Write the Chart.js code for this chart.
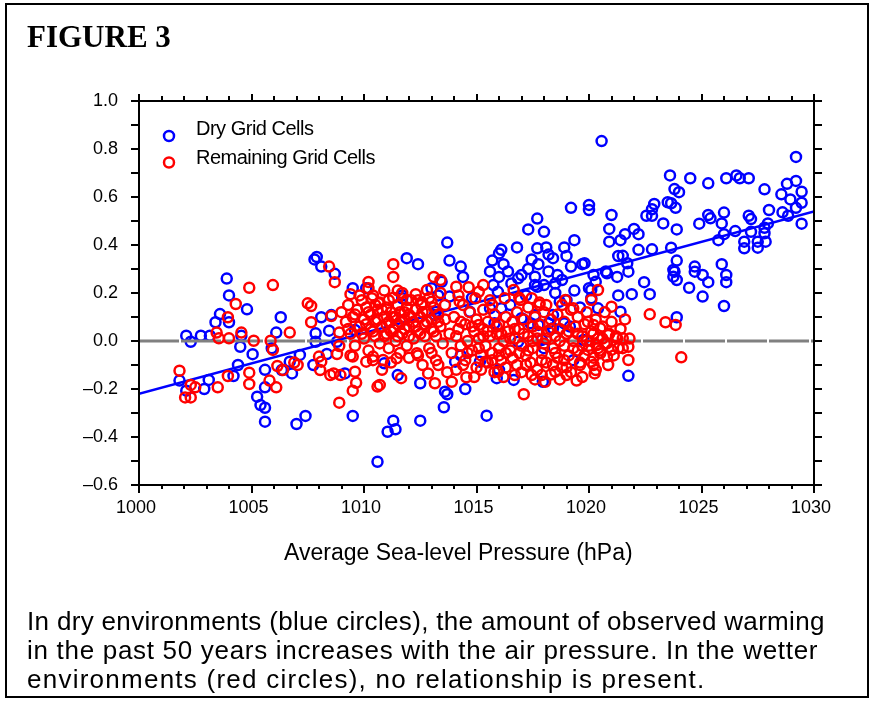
<!DOCTYPE html>
<html>
<head>
<meta charset="utf-8">
<title>Figure 3</title>
<script src="https://cdn.jsdelivr.net/npm/chart.js@4.4.1/dist/chart.umd.min.js"></script>
<style>
  html, body { margin: 0; padding: 0; background: #fff; overflow: hidden; }
  #chart { position: absolute; left: 0; top: 0; }
  #frame { position: absolute; left: 5px; top: 3px; width: 860px; height: 691px;
           border: 2px solid #000; overflow: hidden; }
  #fig { position: absolute; left: 20px; top: 16px; font: bold 31px "Liberation Serif", "Times New Roman", serif;
         line-height: 31px; white-space: nowrap; }
  #xtitle { position: absolute; left: 277px; top: 536px; font: 23px "Liberation Sans", Arial, sans-serif;
            line-height: 23px; white-space: nowrap; }
  #caption { position: absolute; left: 20px; top: 602px; width: 840px; white-space: nowrap;
             font: 26px "Liberation Sans", Arial, sans-serif; line-height: 29px; }
  #caption span { display: block; }
</style>
</head>
<body>
<canvas id="chart" width="874" height="702"></canvas>
<div id="frame">
  <div id="fig">FIGURE 3</div>
  <div id="xtitle">Average Sea-level Pressure (hPa)</div>
  <div id="caption"><span style="letter-spacing:0.33px">In dry environments (blue circles), the amount of observed warming</span><span style="letter-spacing:0.7px">in the past 50 years increases with the air pressure. In the wetter</span><span style="letter-spacing:1.25px">environments (red circles), no relationship is present.</span></div>
</div>
<script>
// [pressure hPa, warming]
var dryCells = [
  [1007.9,0.35],[1007.8,0.34],[1008.1,0.31],[1008.7,0.28],[1009.5,0.22],[1003.9,0.26],[1004.0,0.19],
  [1019.2,0.555],[1020.0,0.567],[1020.0,0.546],[1017.7,0.51],[1017.3,0.465],[1018.0,0.455],[1019.35,0.42],
  [1013.7,0.41],[1016.8,0.39],[1016.1,0.38],[1016.0,0.365],[1017.7,0.386],[1018.1,0.39],[1018.9,0.39],
  [1011.9,0.345],[1012.4,0.32],[1013.8,0.335],[1014.3,0.31],[1014.4,0.267],[1015.7,0.335],[1016.2,0.32],
  [1016.4,0.29],[1015.6,0.29],[1016.0,0.267],[1017.45,0.34],[1017.75,0.32],[1018.2,0.36],[1018.4,0.345],
  [1019.0,0.354],[1019.7,0.32],[1019.2,0.31],[1017.0,0.275],[1017.3,0.30],[1017.6,0.268],[1018.2,0.29],
  [1018.6,0.275],[1018.8,0.254],[1018.5,0.24],[1018.0,0.233],[1017.7,0.226],[1019.35,0.21],[1020.0,0.22],
  [1013.45,0.247],[1013.0,0.22],[1011.7,0.19],[1010.1,0.22],
  [1020.56,0.833],[1029.2,0.767],[1023.6,0.69],[1024.5,0.678],[1025.3,0.657],[1026.1,0.678],[1026.55,0.69],
  [1026.7,0.678],[1027.1,0.678],[1027.8,0.632],[1028.8,0.655],[1029.2,0.667],[1029.45,0.622],[1028.55,0.611],
  [1028.95,0.59],[1029.45,0.576],[1029.2,0.555],[1023.8,0.633],[1024.0,0.62],[1023.5,0.578],[1023.65,0.574],
  [1023.85,0.555],[1022.9,0.571],[1022.8,0.549],[1022.55,0.522],[1022.8,0.522],[1021.0,0.525],[1023.3,0.49],
  [1023.9,0.465],[1024.9,0.489],[1025.3,0.525],[1025.4,0.511],[1026.0,0.535],[1025.9,0.49],[1027.1,0.522],
  [1027.2,0.508],[1028.0,0.546],[1028.6,0.536],[1028.85,0.522],[1029.45,0.489],[1027.95,0.49],[1027.8,0.472],
  [1027.8,0.449],[1027.2,0.455],[1026.5,0.458],[1026.0,0.445],[1025.75,0.42],[1026.9,0.414],[1026.9,0.386],
  [1027.5,0.389],[1027.5,0.414],[1027.85,0.414],
  [1020.9,0.467],[1020.9,0.414],[1021.4,0.42],[1021.6,0.445],[1022.0,0.467],[1022.2,0.445],[1022.2,0.38],
  [1022.8,0.382],[1023.65,0.389],[1021.3,0.354],[1021.5,0.355],[1021.7,0.324],[1021.75,0.289],[1021.25,0.267],
  [1020.8,0.282],[1020.75,0.29],[1020.2,0.275],[1020.3,0.247],[1019.8,0.324],[1023.9,0.335],[1023.75,0.296],
  [1023.8,0.289],[1023.75,0.268],[1023.9,0.254],[1024.7,0.31],[1024.7,0.289],[1025.05,0.275],[1025.3,0.245],
  [1025.9,0.32],[1026.1,0.275],[1026.1,0.245],[1024.45,0.222],[1022.45,0.245],[1021.3,0.19],[1021.9,0.195],
  [1022.7,0.195],[1025.05,0.185],
  [1026.0,0.146],[1020.4,0.136],[1021.4,0.122],[1023.9,0.099],[1021.75,-0.145],[1020.1,0.178],
  [1004.8,0.132],[1003.6,0.112],[1003.4,0.078],[1004.0,0.078],[1002.1,0.022],[1002.3,-0.003],[1002.75,0.022],
  [1003.15,0.022],[1004.55,0.022],[1004.5,-0.024],[1005.05,-0.055],[1004.4,-0.10],[1004.2,-0.146],[1003.1,-0.162],
  [1002.9,-0.20],[1001.8,-0.165],[1002.1,-0.207],[1006.3,0.099],[1006.1,0.035],[1005.9,-0.03],[1005.6,-0.12],
  [1005.6,-0.193],[1005.25,-0.232],[1005.4,-0.267],[1005.6,-0.278],[1005.6,-0.336],[1007.0,-0.346],[1007.4,-0.312],
  [1007.15,-0.058],[1006.8,-0.135],[1006.7,-0.086],[1006.35,-0.121],[1008.1,0.099],[1008.45,0.043],[1007.85,0.032],
  [1007.85,-0.003],[1008.35,-0.054],[1007.75,-0.10],[1009.15,-0.135],[1009.5,-0.312],
  [1010.6,-0.503],[1011.05,-0.378],[1011.3,-0.332],[1011.4,-0.368],[1012.5,-0.332],[1013.55,-0.276],[1013.7,-0.222],
  [1014.5,-0.20],[1015.45,-0.311],[1012.5,-0.176],[1011.5,-0.142],[1015.9,-0.155],[1017.95,-0.17],[1010.9,-0.093],
  [1016.85,0.261],[1017.6,0.233],[1016.55,0.24],[1015.75,0.233],[1015.95,0.205],[1013.3,0.19],[1013.8,0.185],
  [1015.6,0.136],[1016.1,0.136],[1017.0,0.095],[1017.6,0.108],[1017.75,0.067],[1016.85,-0.003],[1014.05,-0.086],
  [1016.65,-0.162],[1013.6,-0.211],[1020.1,0.2125],[1018.4,0.053],[1019.15,0.06],[1019.75,0.004],[1018.7,0.164],
  [1018.4,0.108],[1011.7,0.178],[1013.2,0.122],[1008.55,0.108],[1008.8,-0.003],[1014.7,0.122],[1015.8,0.074],
  [1017.4,0.074],[1018.2,0.074],[1018.9,0.074],[1013.15,0.108],[1009.6,0.046],[1015.15,-0.086],[1017.9,0.004],
  [1016.5,0.15],[1017.2,0.19],[1018.5,0.20],[1019.0,0.17],[1019.6,0.14],[1014.8,0.18],[1018.0,-0.03],
  [1019.3,-0.08],[1016.0,-0.12],[1014.3,-0.06]
];

var wetCells = [
  [1008.45,0.31],[1008.7,0.245],[1004.9,0.222],[1005.95,0.233],[1009.4,0.195],
  [1011.3,0.32],[1011.3,0.267],[1010.2,0.246],[1013.1,0.267],[1012.8,0.2125],[1014.1,0.226],[1014.65,0.224],
  [1015.3,0.233],[1015.1,0.205],[1016.65,0.2125],[1012.3,0.195],[1020.4,0.2125],
  [1004.3,0.154],[1003.95,0.099],[1003.45,0.035],[1003.55,0.011],[1004.0,0.011],[1004.55,0.035],[1005.1,0.001],
  [1005.85,0.001],[1005.95,-0.037],[1006.7,0.035],[1007.5,0.157],[1007.65,0.146],[1007.65,0.078],[1008.55,0.104],
  [1008.9,0.035],[1008.9,-0.021],[1008.8,-0.054],[1008.0,-0.065],[1008.1,-0.086],[1008.05,-0.121],[1008.5,-0.142],
  [1008.65,-0.135],[1008.95,-0.142],[1009.5,-0.065],[1009.6,-0.128],[1009.65,-0.174],[1009.5,-0.207],[1008.9,-0.257],
  [1006.15,-0.104],[1006.4,-0.121],[1006.9,-0.09],[1007.05,-0.10],[1004.9,-0.132],[1004.9,-0.179],[1005.8,-0.165],
  [1006.1,-0.193],[1003.95,-0.146],[1003.5,-0.193],[1002.3,-0.183],[1002.5,-0.193],[1001.8,-0.124],[1002.05,-0.235],
  [1002.3,-0.235],
  [1022.7,0.111],[1023.4,0.078],[1023.85,0.067],[1024.1,-0.068],[1021.0,0.143],[1020.1,0.171],[1021.75,-0.079],
  [1021.75,-0.024],[1021.5,0.011],[1021.3,-0.03],[1020.85,-0.10],[1020.3,-0.121],[1020.2,-0.10],
  [1010.6,-0.19],[1011.65,-0.155],[1017.1,-0.222],[1019.45,-0.165],[1013.15,-0.176],[1013.9,-0.17],[1014.55,-0.151],
  [1019.95,0.08],[1020.2,0.067],[1020.5,0.053],[1020.85,0.025],[1021.25,0.011],[1020.7,-0.01],[1020.35,-0.017],
  [1019.95,-0.037],[1020.5,-0.051],[1021.0,-0.037],[1020.1,-0.086],[1020.8,-0.065],
  [1010.35,0.178],[1010.65,0.157],[1011.9,0.171],[1012.55,0.15],[1013.0,0.164],[1010.7,-0.183],[1010.1,-0.086],
  [1010.4,-0.065],[1010.85,-0.079],[1011.45,-0.072],[1012.35,-0.051],[1012.85,-0.135],
  [1013.4,0.254],[1014.25,0.164],[1014.95,0.178],[1015.1,0.067],[1015.7,0.15],[1016.25,0.178],[1016.95,0.171],
  [1017.45,0.178],[1017.8,0.15],[1015.95,-0.128],[1016.7,-0.142],[1017.45,-0.142],[1017.9,-0.142],[1015.4,-0.086],
  [1013.3,-0.10],[1018.95,0.171],[1018.1,0.15],[1019.3,0.136],[1020.25,-0.135],[1018.5,-0.128],[1019.0,-0.142],
  [1018.05,-0.17],[1019.6,-0.10],
  [1009.0,0.12],[1009.2,0.08],[1009.3,0.15],[1009.4,0.03],[1009.5,0.10],[1009.6,-0.02],[1009.7,0.13],[1009.8,0.06],
  [1009.9,0.17],[1010.0,0.01],[1010.0,0.09],[1010.1,0.14],[1010.2,-0.04],[1010.3,0.05],[1010.3,0.11],[1010.4,0.19],
  [1010.5,0.02],[1010.5,0.08],[1010.6,0.13],[1010.7,-0.01],[1010.7,0.16],[1010.8,0.06],[1010.9,0.10],[1010.9,0.21],
  [1011.0,0.03],[1011.0,0.14],[1011.1,-0.03],[1011.1,0.08],[1011.2,0.12],[1011.3,0.05],[1011.3,0.18],[1011.4,0.00],
  [1011.4,0.10],[1011.5,0.15],[1011.5,0.07],[1011.6,-0.05],[1011.6,0.12],[1011.7,0.03],[1011.7,0.20],[1011.8,0.09],
  [1011.9,0.14],[1011.9,-0.02],[1012.0,0.06],[1012.0,0.11],[1012.1,0.17],[1012.2,0.01],[1012.2,0.08],[1012.3,0.13],
  [1012.4,-0.06],[1012.4,0.04],[1012.5,0.10],[1012.6,0.16],[1012.7,0.02],[1012.7,0.07],[1012.8,0.12],[1012.9,-0.03],
  [1012.9,0.18],[1013.0,0.05],[1013.0,0.09],[1013.1,0.14],[1013.2,-0.08],[1013.2,0.02],[1013.3,0.11],[1013.4,0.06],
  [1013.4,0.20],[1013.5,-0.01],[1013.6,0.09],[1013.6,0.15],
  [1009.4,-0.06],[1010.4,-0.08],[1011.2,-0.09],[1012.0,-0.07],[1012.6,-0.10],[1010.8,-0.12],[1013.0,-0.05],
  [1009.3,0.05],[1009.6,0.11],[1009.9,0.03],[1010.1,0.07],[1010.2,0.12],[1010.4,0.04],[1010.6,0.09],[1010.8,0.13],
  [1010.9,0.02],[1011.0,0.07],[1011.2,0.04],[1011.3,0.10],[1011.5,0.02],[1011.6,0.08],[1011.8,0.05],[1011.8,0.12],
  [1012.0,0.02],[1012.1,0.10],[1012.3,0.06],[1012.5,0.03],[1012.6,0.12],[1012.8,0.08],[1013.1,0.04],[1013.3,0.08],
  [1010.5,0.15],[1011.1,0.17],[1012.4,0.17],[1009.8,0.19],[1011.5,0.21],[1010.2,0.22],
  [1013.8,0.03],[1013.9,-0.05],[1014.0,0.10],[1014.1,-0.12],[1014.2,0.05],[1014.3,-0.02],[1014.4,0.15],[1014.5,-0.08],
  [1014.5,0.07],[1014.6,0.00],[1014.7,0.12],[1014.8,-0.04],[1014.9,0.04],[1015.0,-0.11],[1015.0,0.09],[1015.1,0.01],
  [1015.2,-0.06],[1015.3,0.13],[1015.3,0.05],[1015.4,-0.02],[1015.5,-0.09],[1015.5,0.08],[1015.6,0.02],[1015.7,-0.05],
  [1015.8,0.11],[1015.8,-0.13],[1015.9,0.03],[1016.0,-0.03],[1016.0,0.07],[1016.1,-0.08],[1016.2,0.00],[1016.3,0.10],
  [1016.3,-0.11],[1016.4,0.04],[1016.5,-0.04],[1016.6,0.08],[1016.6,-0.07],[1016.7,0.01],[1016.8,-0.10],[1016.8,0.12],
  [1016.9,0.05],[1017.0,-0.02],[1017.0,-0.13],[1017.1,0.09],[1017.2,-0.06],[1017.3,0.02],[1017.3,0.14],[1017.4,-0.09],
  [1017.5,0.06],[1017.5,-0.03],[1017.6,0.10],[1017.7,-0.12],[1017.7,0.01],[1017.8,0.07],[1017.9,-0.05],[1018.0,0.12],
  [1018.0,-0.01],[1018.1,-0.09],[1018.2,0.04],[1018.3,-0.14],[1018.3,0.09],[1018.4,-0.03],[1018.5,0.02],[1018.6,-0.07],
  [1018.6,0.11],[1018.7,0.05],[1018.8,-0.11],[1018.9,-0.02],[1018.9,0.08],[1019.0,0.03],[1019.1,-0.06],[1019.2,0.13],
  [1019.2,-0.13],[1019.3,0.00],[1019.4,0.06],[1019.5,-0.04],[1019.5,0.10],[1019.6,-0.09],[1019.7,0.02],[1019.8,0.07],
  [1019.8,-0.06],[1019.9,0.12],[1020.0,-0.02],[1020.1,0.04],[1020.2,-0.07],[1020.3,0.09],[1020.4,0.01],[1020.5,-0.04],
  [1020.6,0.06],[1020.7,0.12],[1020.8,-0.01],[1020.9,0.03],[1021.0,0.08],[1021.1,-0.06],[1021.2,0.02],[1021.4,0.05],
  [1021.5,-0.03],[1021.6,0.09],[1021.8,0.01],
  [1014.1,0.02],[1014.3,0.08],[1014.6,-0.05],[1014.8,0.06],[1015.1,-0.03],[1015.3,0.02],[1015.5,0.04],[1015.7,-0.08],
  [1015.9,0.06],[1016.1,0.03],[1016.3,-0.05],[1016.5,0.01],[1016.7,0.05],[1016.9,-0.05],[1017.1,0.03],[1017.3,-0.04],
  [1017.5,0.00],[1017.7,0.04],[1017.9,-0.08],[1018.1,0.01],[1018.3,0.05],[1018.5,-0.05],[1018.7,0.00],[1018.9,-0.08],
  [1019.1,0.04],[1019.3,-0.03],[1019.5,0.03],[1019.7,-0.02],[1019.9,0.00],[1020.2,0.03],[1020.4,-0.03],[1020.6,0.01],
  [1016.0,-0.06],[1017.2,-0.10],[1018.4,-0.10],[1015.2,-0.12],[1014.4,-0.10],[1019.0,-0.11],
  [1014.2,0.19],[1015.6,0.17],[1016.9,0.18],[1017.8,0.16],[1018.8,0.15],[1014.9,-0.15],[1016.2,-0.15],[1018.7,-0.16],
  [1019.7,-0.15],[1017.6,-0.16],[1013.7,-0.13]
];

// fitted line for the dry cells and the zero reference line
var fitPressure = [1000, 1030];
var fitWarming = [-0.22, 0.54];
var zeroPressure = [1000, 1030];
var zeroWarming = [0, 0];

var seriesNames = ['Dry Grid Cells', 'Remaining Grid Cells'];
var seriesColors = ['#0000ff', '#ff0000'];
var xRange = [1000, 1030];
var yRange = [-0.6, 1.0];

function toPoints(pairs) {
  return pairs.map(function (p) { return { x: p[0], y: p[1] }; });
}
function zipPoints(xs, ys) {
  return xs.map(function (v, i) { return { x: v, y: ys[i] }; });
}

// box, minor ticks on all four sides and the in-plot legend
var frameTicks = {
  id: 'frameTicks',
  afterDatasetsDraw: function (chart) {
    var ctx = chart.ctx, a = chart.chartArea, x = chart.scales.x, y = chart.scales.y;
    ctx.save();
    ctx.strokeStyle = '#000';
    ctx.lineWidth = 2;
    ctx.strokeRect(a.left, a.top, a.right - a.left, a.bottom - a.top);
    ctx.beginPath();
    for (var v = x.min; v <= x.max; v++) {
      var px = Math.round(x.getPixelForValue(v));
      var major = v % 5 === 0;
      ctx.moveTo(px, a.bottom); ctx.lineTo(px, a.bottom + (major ? 8 : 4));
      ctx.moveTo(px, a.top); ctx.lineTo(px, a.top - (major ? 7 : 5));
    }
    for (var i = Math.round(y.min * 10); i <= Math.round(y.max * 10); i++) {
      var py = Math.round(y.getPixelForValue(i / 10));
      ctx.moveTo(a.left, py); ctx.lineTo(a.left - 8, py);
      ctx.moveTo(a.right, py); ctx.lineTo(a.right + 8, py);
    }
    ctx.stroke();

    ctx.font = '20px "Liberation Sans", Arial, sans-serif';
    ctx.letterSpacing = '-0.5px';
    ctx.fillStyle = '#000';
    ctx.lineWidth = 2.5;
    for (var k = 0; k < seriesNames.length; k++) {
      var cy = a.top + 35 + k * 26.5;
      ctx.strokeStyle = seriesColors[k];
      ctx.beginPath();
      ctx.arc(a.left + 30, cy, 5, 0, Math.PI * 2);
      ctx.stroke();
      ctx.fillText(seriesNames[k], a.left + 57, a.top + 34 + k * 29);
    }
    ctx.restore();
  }
};

Chart.defaults.font.family = '"Liberation Sans", Arial, sans-serif';
Chart.defaults.color = '#000';

var ctx = document.getElementById('chart').getContext('2d');
new Chart(ctx, {
  type: 'scatter',
  data: {
    datasets: [
      {
        label: seriesNames[1],
        data: toPoints(wetCells),
        borderColor: seriesColors[1],
        backgroundColor: 'rgba(0,0,0,0)',
        pointRadius: 5,
        borderWidth: 2.5,
        order: 0
      },
      {
        label: 'fit',
        data: zipPoints(fitPressure, fitWarming),
        showLine: true,
        borderColor: seriesColors[0],
        borderWidth: 2.5,
        pointRadius: 0,
        order: 1
      },
      {
        label: 'zero',
        data: zipPoints(zeroPressure, zeroWarming),
        showLine: true,
        borderColor: '#808080',
        borderWidth: 3,
        borderDash: [40, 2],
        pointRadius: 0,
        order: 2
      },
      {
        label: seriesNames[0],
        data: toPoints(dryCells),
        borderColor: seriesColors[0],
        backgroundColor: 'rgba(0,0,0,0)',
        pointRadius: 5,
        borderWidth: 2.5,
        order: 3
      }
    ]
  },
  options: {
    responsive: false,
    animation: false,
    devicePixelRatio: 1,
    layout: { padding: { left: 59, top: 101, right: 60, bottom: 167 } },
    plugins: { legend: { display: false }, tooltip: { enabled: false } },
    scales: {
      x: {
        type: 'linear',
        min: xRange[0], max: xRange[1],
        grid: { display: false, drawTicks: false },
        border: { display: false },
        ticks: {
          stepSize: 5, padding: 12, labelOffset: -3,
          font: { size: 18 },
          callback: function (v) { return String(v); }
        },
        afterFit: function (s) { s.height = 50; }
      },
      y: {
        type: 'linear',
        min: yRange[0], max: yRange[1],
        grid: { display: false, drawTicks: false },
        border: { display: false },
        ticks: {
          stepSize: 0.2, padding: 21,
          font: { size: 18 },
          callback: function (v) {
            var s = (Math.abs(v) < 1e-9 ? 0 : v).toFixed(1);
            return s.replace('-', '\u2013');
          }
        },
        afterFit: function (s) { s.width = 80; }
      }
    }
  },
  plugins: [frameTicks]
});
</script>
</body>
</html>
